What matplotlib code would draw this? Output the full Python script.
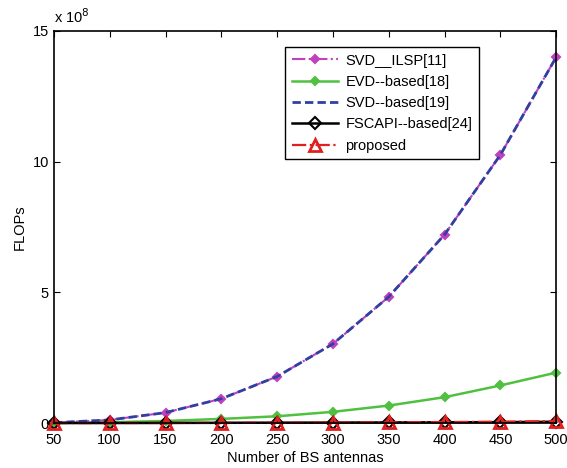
import matplotlib
matplotlib.use("Agg")
import matplotlib.pyplot as plt

plt.rcParams['font.family'] = ['Liberation Sans', 'DejaVu Sans']

antennas = [50, 100, 150, 200, 250, 300, 350, 400, 450, 500]
# values in units of 1e8 FLOPs
svd_ilsp = [0.015, 0.12, 0.40, 0.93, 1.78, 3.03, 4.83, 7.21, 10.26, 14.0]
evd_based = [0.005, 0.03, 0.08, 0.16, 0.26, 0.43, 0.67, 0.99, 1.44, 1.93]
svd_based = [0.015, 0.12, 0.40, 0.93, 1.78, 3.03, 4.83, 7.21, 10.26, 14.0]
fscapi = [0.0005, 0.002, 0.005, 0.01, 0.015, 0.02, 0.025, 0.03, 0.035, 0.05]
proposed = [0.0005, 0.002, 0.005, 0.01, 0.015, 0.02, 0.03, 0.04, 0.05, 0.08]

fig = plt.figure(figsize=(5.67, 4.68), dpi=100)
ax = fig.add_axes([0.095, 0.096, 0.886, 0.838])

ax.plot(antennas, svd_ilsp, color='#c040c0', linestyle='-.', linewidth=1.5,
        marker='D', markersize=4.5, markeredgewidth=1.5, label='SVD__ILSP[11]',
        clip_on=False)
ax.plot(antennas, evd_based, color='#50c040', linestyle='-', linewidth=1.8,
        marker='D', markersize=4.5, markeredgewidth=1.5, label='EVD--based[18]',
        clip_on=False)
ax.plot(antennas, svd_based, color='#3040a0', linestyle=(0, (3, 1.5)), linewidth=2,
        label='SVD--based[19]', clip_on=False)
ax.plot(antennas, fscapi, color='black', linestyle='-', linewidth=1.8,
        marker='D', markersize=6, markerfacecolor='none', markeredgewidth=1.5,
        label='FSCAPI--based[24]', clip_on=False)
ax.plot(antennas, proposed, color='#e02020', linestyle='-.', linewidth=1.6,
        marker='^', markersize=9, markerfacecolor='none', markeredgewidth=2,
        label='proposed', clip_on=False)

ax.set_xlim(50, 500)
ax.set_ylim(0, 15)
ax.set_xticks(antennas)
ax.set_yticks([0, 5, 10, 15])
ax.tick_params(direction='in', top=True, right=True, labelsize=10.5, length=4)
ax.tick_params(axis='x', pad=7)
for s in ax.spines.values():
    s.set_linewidth(1.2)
ax.set_xlabel('Number of BS antennas', fontsize=10.5, labelpad=3)
ax.set_ylabel('FLOPs', fontsize=10.5)
ax.text(0.0, 1.012, r'x 10$^{8}$', transform=ax.transAxes, fontsize=10.5,
        ha='left', va='bottom')

leg = ax.legend(loc='upper left', bbox_to_anchor=(0.46, 0.959), borderaxespad=0,
                fontsize=10.5, frameon=True, fancybox=False, edgecolor='black',
                framealpha=1, handlelength=3.2, borderpad=0.45, labelspacing=0.5,
                handletextpad=0.5)
leg.get_frame().set_linewidth(1.0)

fig.savefig('out.png', dpi=100)
